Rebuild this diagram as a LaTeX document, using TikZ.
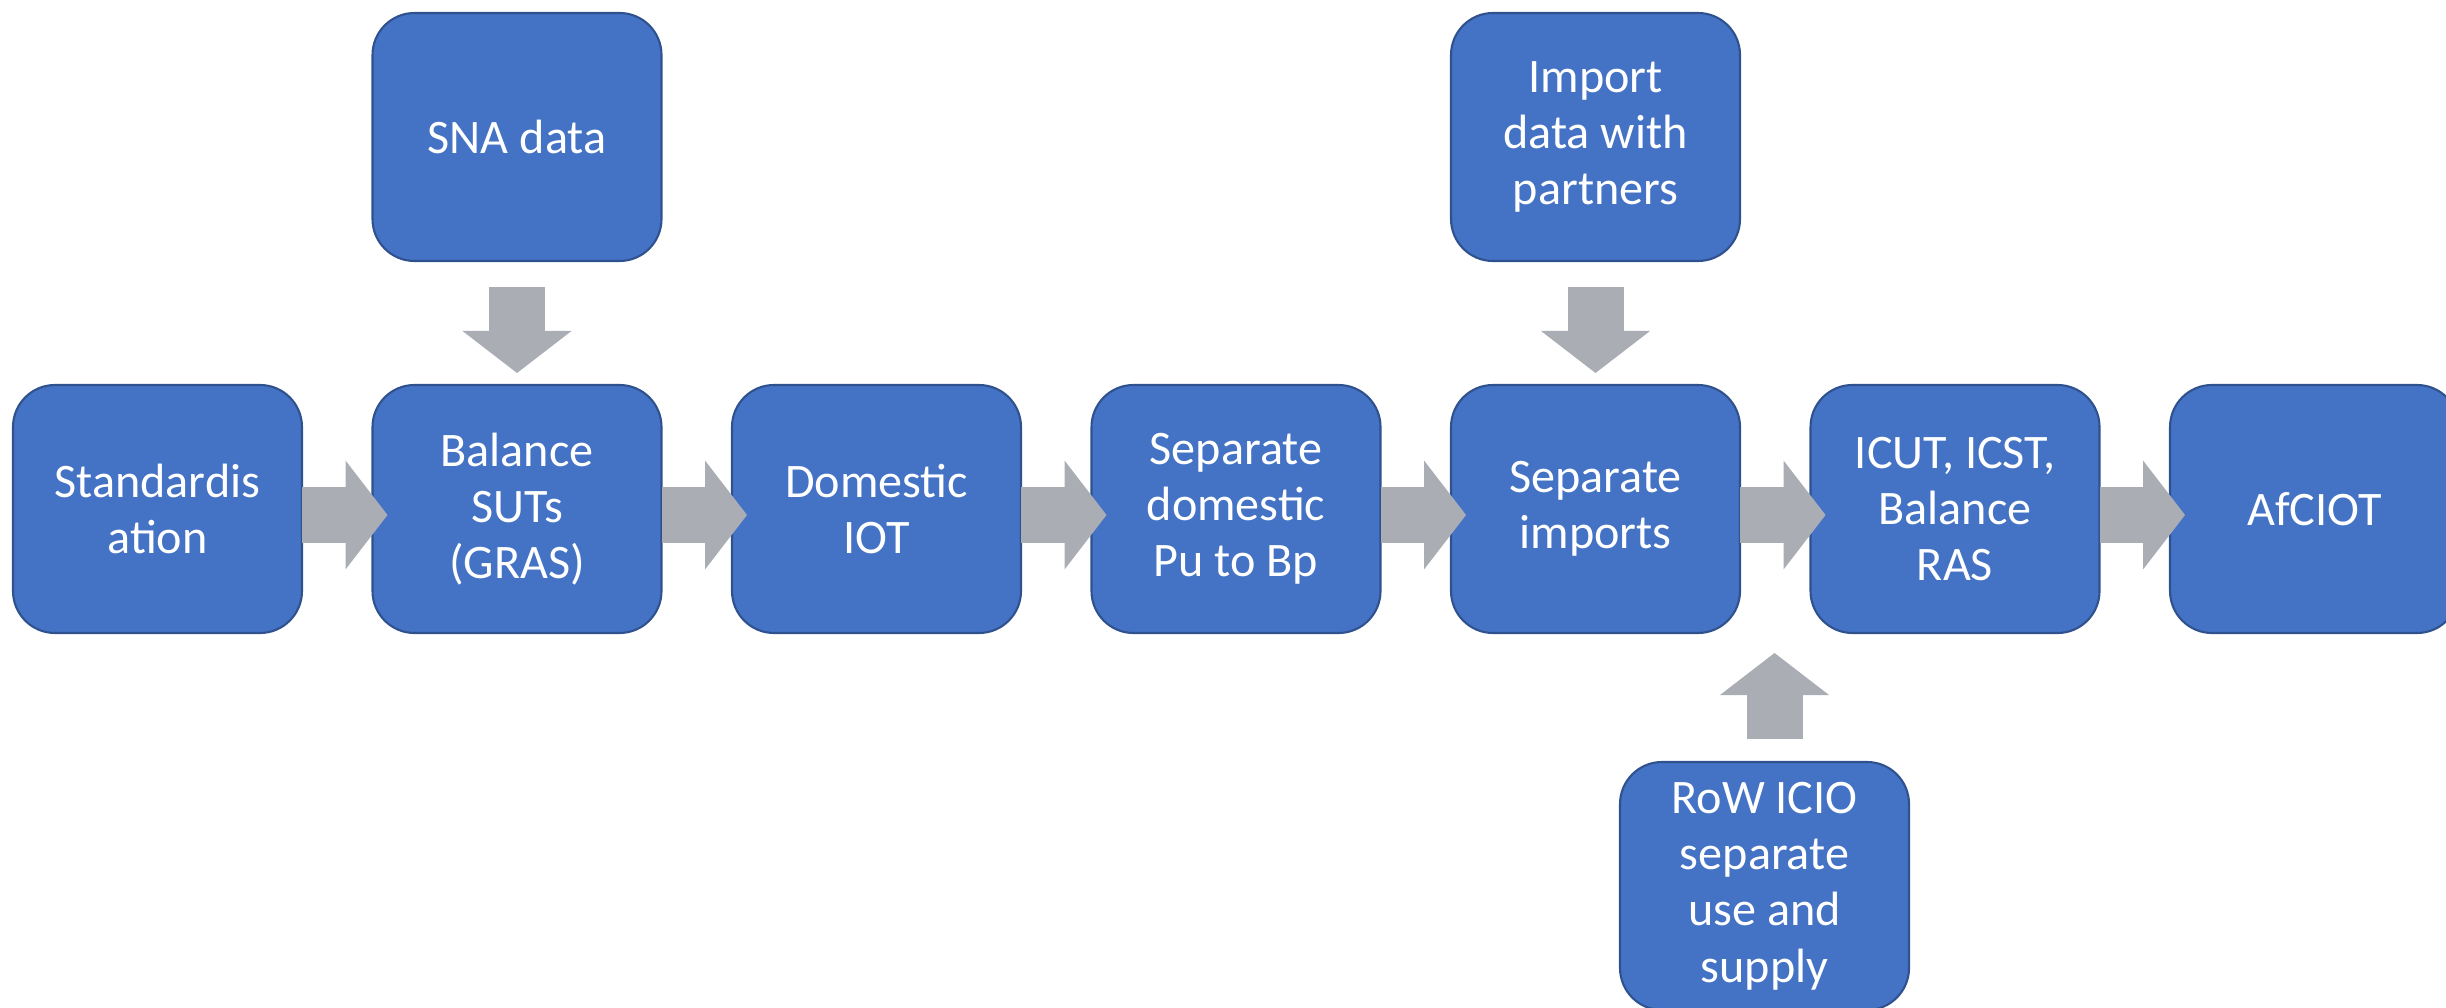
\documentclass[tikz,border=0pt]{standalone}
\usepackage{fontspec}
\setmainfont{Carlito}
\usepackage{xcolor}
\usepackage{tikz}
\usetikzlibrary{positioning,arrows.meta}
\definecolor{boxblue}{HTML}{4472C4}
\definecolor{boxline}{HTML}{2F528F}
\definecolor{arrgray}{HTML}{ABADB5}

\begin{document}
\begin{tikzpicture}[
    stepbox/.style={rectangle, rounded corners=0.42cm, fill=boxblue, draw=boxline, line width=0.6pt,
        outer sep=0pt, minimum width=2.89cm, minimum height=2.48cm, text=white, align=center,
        font=\fontsize{13.7}{16}\selectfont},
    flowarr/.style={draw=arrgray, line width=0.56cm, -{Triangle[length=0.42cm, width=1.09cm, line width=0pt]}},
    node distance=0.705cm
]
                \useasboundingbox (0,0) rectangle (24.46,10.07);
                % \draw[style=help lines] (0,0) grid (24,10);
                \node[stepbox] (std) at (1.575,4.98) {Standardis\\ation};
                \node[stepbox, right=of std] (bal) {Balance\\SUTs\\(GRAS)};
                \node[stepbox, right=of bal] (dom) {Domestic\\IOT};
                \node[stepbox, right=of dom] (sepd) {Separate\\domestic\\Pu to Bp};
                \node[stepbox, right=of sepd] (sepi) {Separate\\imports};
                \node[stepbox, right=of sepi] (icut) {ICUT, ICST,\\Balance\\RAS};
                \node[stepbox, right=of icut] (afc) {AfCIOT};
                \node[stepbox, above=1.24cm of bal] (sna) {SNA data};
                \node[stepbox, above=1.24cm of sepi] (imp) {Import\\data with\\partners};
                \node[stepbox, below=1.29cm of icut, xshift=-1.905cm] (row) {RoW ICIO\\separate\\use and\\supply};
                % block arrows
                \draw[flowarr] ([yshift=-0.6mm]std.east) -- ([xshift=1.5mm,yshift=-0.6mm]bal.west);
                \draw[flowarr] ([yshift=-0.6mm]bal.east) -- ([xshift=1.5mm,yshift=-0.6mm]dom.west);
                \draw[flowarr] ([yshift=-0.6mm]dom.east) -- ([xshift=1.5mm,yshift=-0.6mm]sepd.west);
                \draw[flowarr] ([yshift=-0.6mm]sepd.east) -- ([xshift=1.5mm,yshift=-0.6mm]sepi.west);
                \draw[flowarr] ([yshift=-0.6mm]sepi.east) -- ([xshift=1.5mm,yshift=-0.6mm]icut.west);
                \draw[flowarr] ([yshift=-0.6mm]icut.east) -- ([xshift=1.5mm,yshift=-0.6mm]afc.west);
                \draw[flowarr] ([yshift=-2.6mm]sna.south) -- ([yshift=1.2mm]bal.north);
                \draw[flowarr] ([yshift=-2.6mm]imp.south) -- ([yshift=1.2mm]sepi.north);
                \draw[flowarr] ([xshift=1mm,yshift=2.3mm]row.north) -- ++(0,0.86);
            \end{tikzpicture}
\end{document}
